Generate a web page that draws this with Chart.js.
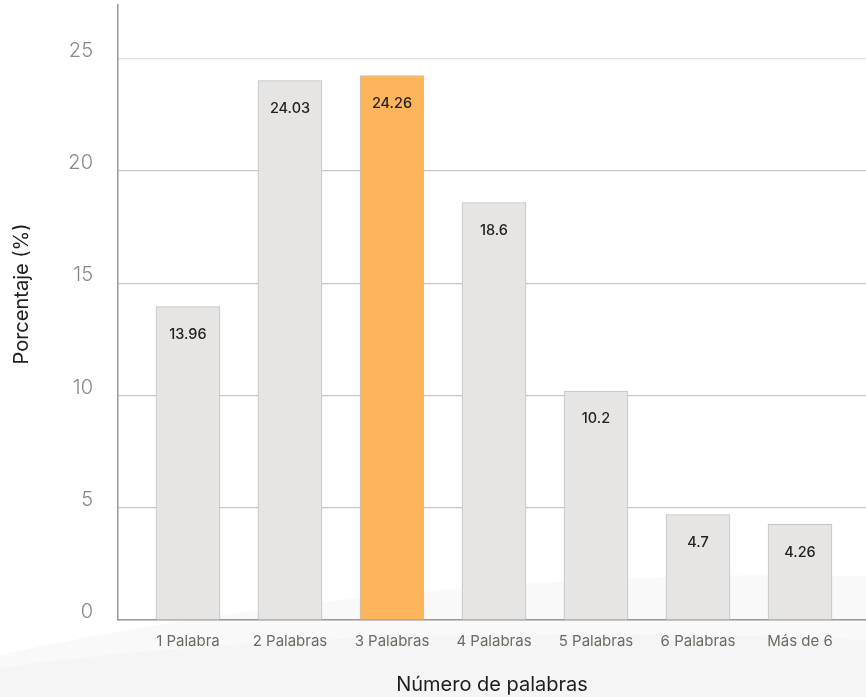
<!DOCTYPE html>
<html lang="es">
<head>
<meta charset="utf-8">
<script src="https://cdn.jsdelivr.net/npm/chart.js@4/dist/chart.umd.min.js"></script>
<style>
  html, body { margin: 0; padding: 0; background: #ffffff; }
  #wrap { width: 866px; height: 697px; position: relative; }
</style>
</head>
<body>
<div id="wrap"><canvas id="grafico"></canvas></div>
<script>
// Datos: porcentaje de búsquedas según número de palabras
const categorias = ['1 Palabra', '2 Palabras', '3 Palabras', '4 Palabras', '5 Palabras', '6 Palabras', 'Más de 6'];
const porcentajes = [13.96, 24.03, 24.26, 18.6, 10.2, 4.7, 4.26];
const destacado = 2; // la barra naranja
const ticksY = [0, 5, 10, 15, 20, 25];
const tituloY = 'Porcentaje (%)';

const fuente = "Inter, 'Noto Sans', sans-serif";

// Fondo con onda gris muy suave en la parte inferior
const fondoOnda = {
    id: 'fondoOnda',
    beforeDraw(chart) {
        const ctx = chart.ctx;
        const w = chart.width, h = chart.height;
        ctx.save();
        ctx.fillStyle = '#ffffff';
        ctx.fillRect(0, 0, w, h);
        ctx.fillStyle = '#f9f9f9';
        ctx.beginPath();
        ctx.moveTo(0, h);
        ctx.lineTo(0, 655);
        ctx.bezierCurveTo(250, 600, 560, 570, w, 576);
        ctx.lineTo(w, h);
        ctx.closePath();
        ctx.fill();
        ctx.fillStyle = '#f5f5f5';
        ctx.beginPath();
        ctx.moveTo(0, h);
        ctx.lineTo(0, 668);
        ctx.bezierCurveTo(200, 640, 500, 625, w, 640);
        ctx.lineTo(w, h);
        ctx.closePath();
        ctx.fill();
        ctx.restore();
    }
};

// Etiqueta de valor dentro de cada barra + título vertical del eje Y
const etiquetasValor = {
    id: 'etiquetasValor',
    afterDatasetsDraw(chart) {
        const ctx = chart.ctx;
        const meta = chart.getDatasetMeta(0);
        ctx.save();
        ctx.font = '500 14.5px ' + fuente;
        ctx.fillStyle = '#222222';
        ctx.textAlign = 'center';
        ctx.textBaseline = 'middle';
        meta.data.forEach((bar, i) => {
            ctx.fillText(String(porcentajes[i]), bar.x, bar.y + 28);
        });
        // título del eje Y, algo por encima del centro del área
        ctx.translate(22, 294);
        ctx.rotate(-Math.PI / 2);
        ctx.font = '20px ' + fuente;
        ctx.fillStyle = '#1e1e1e';
        ctx.fillText(tituloY, 0, 0);
        ctx.restore();
    }
};

// quitar el relleno automático que Chart.js añade por las etiquetas
function sinRelleno(scale) {
    scale.paddingLeft = 0;
    scale.paddingRight = 0;
    scale.paddingTop = 0;
    scale.paddingBottom = 0;
}

const ctx = document.getElementById('grafico').getContext('2d');
const grafico = new Chart(ctx, {
    type: 'bar',
    data: {
        datasets: [{
            data: porcentajes.map((v, i) => ({ x: i, y: v })),
            backgroundColor: porcentajes.map((v, i) => i === destacado ? '#feb45a' : '#e6e5e4'),
            borderColor: '#c2c2c2',
            borderWidth: 1,
            barThickness: 64
        }]
    },
    options: {
        responsive: true,
        maintainAspectRatio: false,
        animation: false,
        layout: { padding: { top: 5, right: 0, left: 0, bottom: 0 } },
        plugins: {
            legend: { display: false },
            tooltip: { enabled: false }
        },
        scales: {
            x: {
                type: 'linear',
                offset: false,
                min: -0.686,
                max: 6.647,
                grid: { display: false, drawTicks: false, offset: false },
                border: { color: '#9a9a9a', width: 1.5 },
                ticks: {
                    stepSize: 1,
                    includeBounds: false,
                    autoSkip: false,
                    maxRotation: 0,
                    padding: 12,
                    color: '#6d6a62',
                    font: { family: fuente, size: 15 },
                    callback: (v) => categorias[v] ?? ''
                },
                title: {
                    display: true,
                    text: 'Número de palabras',
                    color: '#1e1e1e',
                    font: { family: fuente, size: 20 },
                    padding: { top: 21, bottom: 0 }
                },
                afterFit(scale) {
                    scale.height = 77;
                    sinRelleno(scale);
                }
            },
            y: {
                min: 0,
                max: 27.4,
                grid: {
                    drawTicks: false,
                    color: (c) => c.tick && c.tick.value === 25 ? '#dddddd' : '#c6c6c6',
                    lineWidth: 1.2
                },
                border: { color: '#9a9a9a', width: 1.5 },
                afterBuildTicks(scale) {
                    scale.ticks = ticksY.map(v => ({ value: v }));
                },
                ticks: {
                    padding: 25,
                    labelOffset: -8,
                    color: '#888888',
                    font: { family: fuente, size: 20, weight: 300 }
                },
                afterFit(scale) {
                    scale.width = 118;
                    sinRelleno(scale);
                }
            }
        }
    },
    plugins: [fondoOnda, etiquetasValor]
});
</script>
</body>
</html>
